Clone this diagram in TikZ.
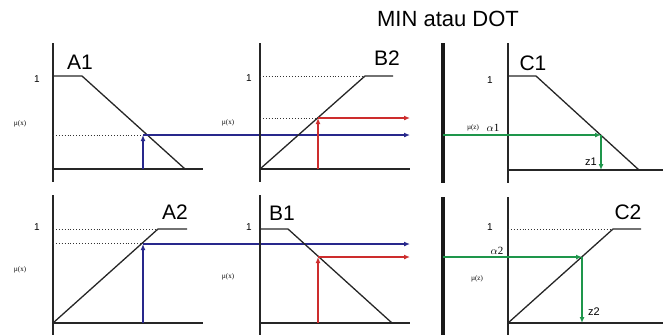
\documentclass[tikz,border=0pt]{standalone}
\usepackage{fontspec}
\setmainfont{Liberation Sans}
\newfontfamily\serifsm{Liberation Serif}
\usetikzlibrary{arrows.meta}
\definecolor{bluel}{RGB}{40,40,140}
\definecolor{redl}{RGB}{205,45,45}
\definecolor{greenl}{RGB}{30,150,75}
\tikzset{
  axis/.style={line width=1.7pt,black!85},
  curve/.style={line width=1.3pt,black!85},
  dots/.style={dotted,line width=0.9pt,black!80},
  thick bar/.style={line width=3.2pt,black!90},
  blueln/.style={line width=1.4pt,bluel},
  redln/.style={line width=1.4pt,redl},
  greenln/.style={line width=1.4pt,greenl},
  tip/.style={-{Latex[length=6pt,width=5pt]}},
  big/.style={font=\fontsize{21}{23}\selectfont,inner sep=0pt},
  one/.style={font=\fontsize{10}{11}\selectfont,inner sep=0pt},
  mu/.style={font=\serifsm\fontsize{7}{8}\selectfont,inner sep=0pt},
  alph/.style={font=\serifsm\fontsize{11}{12}\selectfont,inner sep=0pt},
  zl/.style={font=\fontsize{11}{12}\selectfont,inner sep=0pt}
}
\begin{document}
\begin{tikzpicture}[x=1pt,y=-1pt]
\useasboundingbox (0,0) rectangle (663,335);
\node[font=\fontsize{22}{24}\selectfont,inner sep=0pt] (title) at (448,19) {MIN atau DOT};

% ---------- A1 ----------
\draw[axis] (53,43) -- (53,182);
\draw[axis] (53,169) -- (203,169);
\draw[curve] (53,76) -- (82,76) -- (185,169);
\node[big] (A1) at (80,62) {A1};
\node[one] (A1one) at (37,79) {1};
\node[mu] (A1mu) at (20,124) {\textmu(x)};
\draw[dots] (53,135) -- (143,135);
\coordinate (a1b) at (143,169);
\coordinate (a1c) at (143,135);
\coordinate (a1e) at (410,135);
\draw[blueln,tip] (a1b) -- (a1c);
\draw[blueln,tip] (a1c) -- (a1e);

% ---------- B2 ----------
\draw[axis] (260,43) -- (260,182);
\draw[axis] (260,169) -- (410,169);
\draw[curve] (260,169) -- (365,76) -- (393,76);
\draw[dots] (260,76) -- (365,76);
\node[big] (B2) at (387,58) {B2};
\node[one] (B2one) at (249,78) {1};
\node[mu] (B2mu) at (228,123) {\textmu(x)};
\draw[dots] (260,118) -- (318,118);
\coordinate (b2b) at (318,169);
\coordinate (b2c) at (318,118);
\coordinate (b2e) at (410,118);
\draw[redln,tip] (b2b) -- (b2c);
\draw[redln,tip] (b2c) -- (b2e);

% ---------- C1 ----------
\draw[thick bar] (443,43) -- (443,183);
\draw[axis] (508,43) -- (508,183);
\draw[axis] (508,170) -- (663,170);
\draw[curve] (508,76) -- (536,76) -- (639,170);
\node[big] (C1) at (533,63) {C1};
\node[one] (C1one) at (490,80) {1};
\node[mu] (C1mu) at (473,128) {\textmu(z)};
\node[alph] (C1al) at (493,128) {$\alpha$1};
\coordinate (c1s) at (443,135);
\coordinate (c1c) at (601,135);
\coordinate (c1b) at (601,170);
\draw[greenln,tip] (c1s) -- (c1c);
\draw[greenln,tip] (c1c) -- (c1b);
\node[zl] (z1) at (591,162) {z1};

% ---------- A2 ----------
\draw[axis] (53,195) -- (53,335);
\draw[axis] (53,323) -- (203,323);
\draw[curve] (53,323) -- (158,229) -- (187,229);
\draw[dots] (53,229) -- (158,229);
\draw[dots] (53,243) -- (143,243);
\node[big] (A2) at (175,212) {A2};
\node[one] (A2one) at (37,227) {1};
\node[mu] (A2mu) at (20,270) {\textmu(x)};
\coordinate (a2b) at (143,323);
\coordinate (a2c) at (143,244);
\coordinate (a2e) at (410,244);
\draw[blueln,tip] (a2b) -- (a2c);
\draw[blueln,tip] (a2c) -- (a2e);

% ---------- B1 ----------
\draw[axis] (260,195) -- (260,335);
\draw[axis] (260,323) -- (410,323);
\draw[curve] (260,229) -- (288,229) -- (392,323);
\node[big] (B1) at (282,213) {B1};
\node[one] (B1one) at (249,227) {1};
\node[mu] (B1mu) at (228,277) {\textmu(x)};
\coordinate (b1b) at (318,323);
\coordinate (b1c) at (318,257);
\coordinate (b1e) at (410,257);
\draw[redln,tip] (b1b) -- (b1c);
\draw[redln,tip] (b1c) -- (b1e);

% ---------- C2 ----------
\draw[thick bar] (443,197) -- (443,335);
\draw[axis] (508,197) -- (508,335);
\draw[axis] (508,323) -- (663,323);
\draw[curve] (508,323) -- (613,229) -- (641,229);
\draw[dots] (508,229) -- (613,229);
\node[big] (C2) at (628,212) {C2};
\node[one] (C2one) at (490,227) {1};
\node[alph] (C2al) at (497,251) {$\alpha$2};
\node[mu] (C2mu) at (477,279) {\textmu(z)};
\coordinate (c2s) at (443,257);
\coordinate (c2c) at (582,257);
\coordinate (c2b) at (582,323);
\draw[greenln,tip] (c2s) -- (c2c);
\draw[greenln,tip] (c2c) -- (c2b);
\node[zl] (z2) at (594,312) {z2};
\end{tikzpicture}
\end{document}
